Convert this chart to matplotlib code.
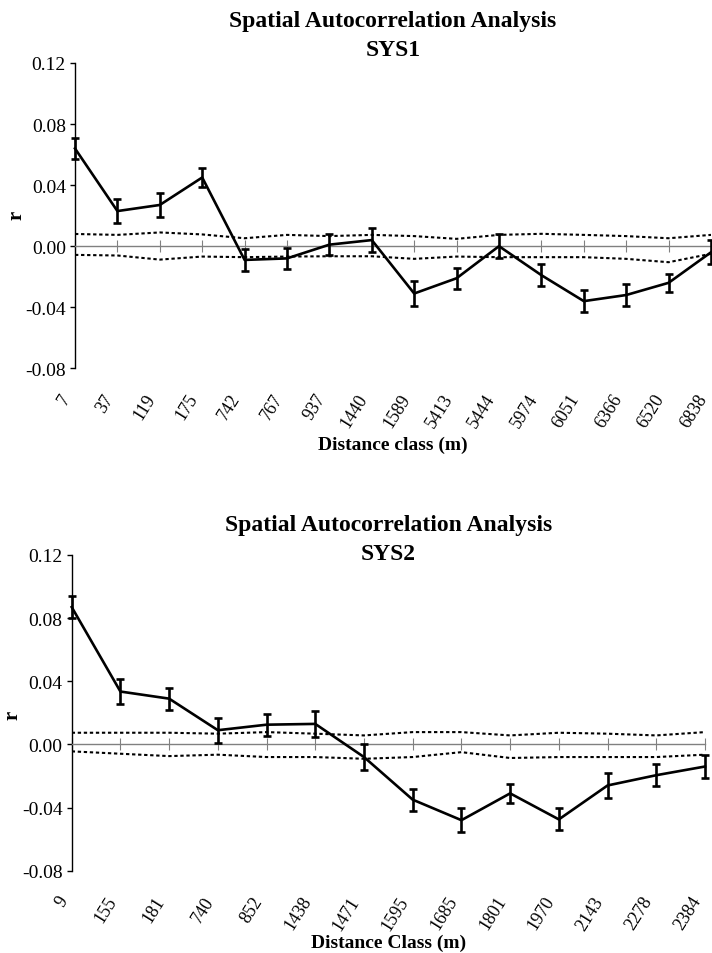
import numpy as np
import matplotlib.pyplot as plt
from matplotlib.transforms import ScaledTranslation

plt.rcParams["font.family"] = ["Liberation Serif", "DejaVu Serif"]
plt.rcParams["axes.unicode_minus"] = False

# ── SYS1 ──────────────────────────────────────────────────────────────────────
sys1_classes = ["7", "37", "119", "175", "742", "767", "937", "1440",
                "1589", "5413", "5444", "5974", "6051", "6366", "6520", "6838"]
sys1_r = [0.064, 0.023, 0.027, 0.045, -0.009, -0.008, 0.001, 0.004,
          -0.031, -0.021, 0.000, -0.019, -0.036, -0.032, -0.024, -0.004]
sys1_err = [0.007, 0.008, 0.008, 0.006, 0.007, 0.007, 0.007, 0.008,
            0.008, 0.007, 0.008, 0.007, 0.007, 0.007, 0.006, 0.008]
sys1_upper = [0.008, 0.0074, 0.009, 0.0077, 0.0052, 0.0074, 0.0066, 0.0074,
              0.0066, 0.0048, 0.0074, 0.0081, 0.0074, 0.0066, 0.0052, 0.0074]
sys1_lower = [-0.0057, -0.0061, -0.0088, -0.0068, -0.0072, -0.0068, -0.0066, -0.0066,
              -0.0083, -0.0068, -0.0072, -0.0072, -0.0072, -0.0083, -0.0105, -0.005]

# ── SYS2 ──────────────────────────────────────────────────────────────────────
sys2_classes = ["9", "155", "181", "740", "852", "1438", "1471", "1595",
                "1685", "1801", "1970", "2143", "2278", "2384"]
sys2_r = [0.087, 0.0335, 0.029, 0.009, 0.0125, 0.013, -0.008, -0.035,
          -0.048, -0.031, -0.0475, -0.026, -0.0195, -0.014]
sys2_err = [0.007, 0.008, 0.007, 0.008, 0.007, 0.008, 0.008, 0.007,
            0.0075, 0.006, 0.007, 0.008, 0.007, 0.007]
sys2_upper = [0.0074, 0.0074, 0.0074, 0.0068, 0.0078, 0.0068, 0.0057, 0.0078,
              0.0078, 0.0057, 0.0074, 0.0068, 0.0057, 0.0078]
sys2_lower = [-0.0044, -0.0059, -0.0074, -0.0065, -0.008, -0.008, -0.0091, -0.008,
              -0.0049, -0.0086, -0.008, -0.008, -0.008, -0.0065]

W, H = 712, 954
fig = plt.figure(figsize=(W / 100, H / 100), dpi=100)


def fy(px):
    # pixel row from the top -> figure fraction
    return 1 - px / H


def panel(rect, classes, r, err, upper, lower, name, xlabel, title_px, xlabel_px, r_px):
    ax = fig.add_axes(rect)
    x = np.arange(len(classes))

    # confidence envelope
    ax.plot(x, upper, color="black", lw=1.5, ls=(0, (1.6, 1.3)))
    ax.plot(x, lower, color="black", lw=1.5, ls=(0, (1.6, 1.3)))

    ax.errorbar(x, r, yerr=err, color="black", lw=1.9, elinewidth=1.9,
                capsize=3, capthick=1.9, clip_on=False, zorder=5)

    ax.set_xlim(0, len(classes) - 1)
    ax.set_ylim(-0.08, 0.12)
    yt = np.arange(-0.08, 0.121, 0.04)
    ax.set_yticks(yt)
    ax.set_yticklabels([f"{v:.2f}" for v in yt], fontsize=14)
    ax.tick_params(axis="y", direction="out", length=3.6, width=1, color="black", pad=3)

    # category axis crosses at zero, labels stay low
    ax.spines["bottom"].set_position(("data", 0))
    ax.spines["bottom"].set_color("gray")
    ax.spines["bottom"].set_linewidth(1)
    ax.set_xticks(x)
    ax.tick_params(axis="x", direction="inout", length=8.6, color="gray",
                   labelbottom=False)
    ax.spines["top"].set_visible(False)
    ax.spines["right"].set_visible(False)
    ax.spines["left"].set_linewidth(1)

    sec = ax.secondary_xaxis(0)
    sec.set_xticks(x)
    sec.set_xticklabels(classes, rotation=58, ha="right", va="baseline",
                        rotation_mode="anchor", fontsize=13)
    sec.tick_params(length=0, pad=21)
    sec.spines["bottom"].set_visible(False)
    nudge = ScaledTranslation(-4 / 100, 0, fig.dpi_scale_trans)
    for lbl in sec.get_xticklabels():
        lbl.set_transform(lbl.get_transform() + nudge)

    cx = rect[0] + rect[2] / 2
    fig.text(cx, fy(title_px[0]), "Spatial Autocorrelation Analysis",
             ha="center", va="center", fontsize=17, fontweight="bold")
    fig.text(cx, fy(title_px[1]), name,
             ha="center", va="center", fontsize=17, fontweight="bold")
    fig.text(cx, fy(xlabel_px), xlabel, ha="center", va="center",
             fontsize=14, fontweight="bold")
    fig.text(r_px[0] / W, fy(r_px[1]), "r", ha="center", va="center",
             fontsize=15, fontweight="bold", rotation=90)
    return ax


panel([75 / W, fy(369.3), 636 / W, 305.3 / H],
      sys1_classes, sys1_r, sys1_err, sys1_upper, sys1_lower,
      "SYS1", "Distance class (m)", (21, 51), 445, (16, 215))

panel([71.7 / W, fy(871.7), 633.3 / W, 315.7 / H],
      sys2_classes, sys2_r, sys2_err, sys2_upper, sys2_lower,
      "SYS2", "Distance Class (m)", (525, 555), 943, (13, 715))

fig.savefig("out.png", dpi=100)
